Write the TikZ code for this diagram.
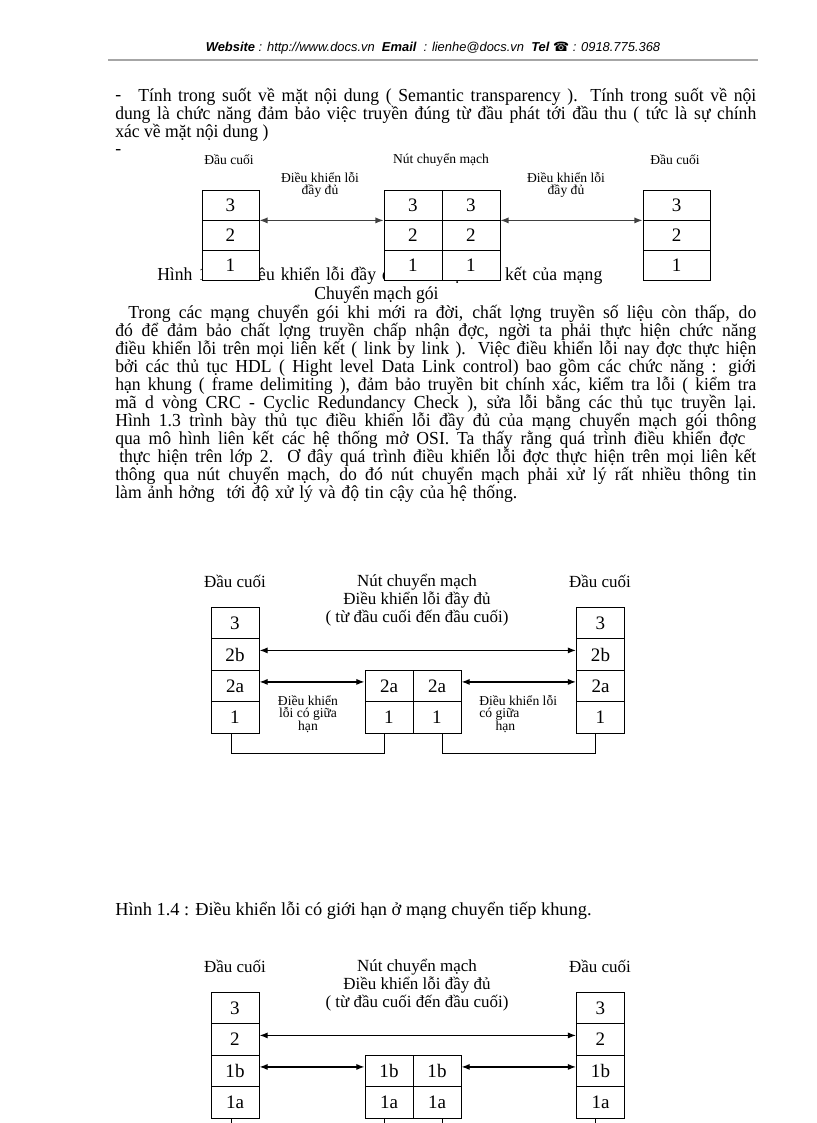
\documentclass[tikz,border=0pt]{standalone}
\usepackage{graphicx}
\usepackage{fontspec}
\setmainfont{Liberation Serif}
\newfontfamily\bodyfont[FakeStretch=0.96]{Liberation Serif}
\newfontfamily\headfont{Liberation Sans}
\newfontfamily\symfont{DejaVu Sans}
\usetikzlibrary{calc}
\usetikzlibrary{arrows.meta}

\newlength\px
\setlength\px{0.7353pt}
\newlength\jw
% one justified line of the text, #1 = width in px
\newcommand\jline[2]{\settowidth\jw{#2}%
  \ifdim\jw>#1\px\resizebox{#1\px}{\height}{#2}\else\makebox[#1\px][s]{#2}\fi}

\tikzset{
  txt/.style={anchor=base west, inner sep=0pt, font=\bodyfont\fontsize{13.5}{15}\selectfont},
  lbl/.style={inner sep=0pt, align=center, font=\fontsize{12.5}{13.2}\selectfont},
  smalllbl/.style={inner sep=0pt, align=center, font=\fontsize{10}{8.4}\selectfont},
  tinylbl/.style={inner sep=0pt, font=\fontsize{10}{9.2}\selectfont},
  cell/.style={draw, line width=0.7pt, fill=white, inner sep=0pt, minimum width=35.3pt, minimum height=23.16pt, font=\fontsize{14}{14}\selectfont},
  cellA/.style={draw, line width=0.6pt, fill=white, inner sep=0pt, minimum height=22.06pt, font=\fontsize{14}{14}\selectfont},
  link/.style={{Latex[length=6pt,width=4.5pt]}-{Latex[length=6pt,width=4.5pt]}, line width=0.9pt},
  wire/.style={line width=0.6pt}
}

\begin{document}
\begin{tikzpicture}[x=0.7353pt, y=-0.7353pt]
    \useasboundingbox (0,0) rectangle (816,1123);

    % page header
    \node[anchor=base, inner sep=0pt, font=\headfont\fontsize{9.5}{11}\selectfont\itshape] (head) at (433,52)
        {\textbf{Website} : http://www.docs.vn \ \textbf{Email} \ : lienhe@docs.vn \ \textbf{Tel} {\symfont\upshape ☎} : 0918.775.368};
    \draw[gray!70, line width=1.1pt] (108,60) -- (758,60);

    % text above Hinh 1.3
    \node[txt] (dash1) at (115,101) {-};
    \node[txt] (p1) at (138,102) {\jline{618}{Tính trong suốt về mặt nội dung ( Semantic transparency ). Tính trong suốt về nội}};
    \node[txt] (p2) at (115,120) {\jline{641}{dung là chức năng đảm bảo việc truyền đúng từ đầu phát tới đầu thu (  tức là sự chính}};
    \node[txt] (p3) at (115,138) {xác về mặt nội dung )};
    \node[txt] (dash2) at (115,155) {-};

    % Hinh 1.3 caption (boxes are drawn over it)
    \node[txt, font=\bodyfont\fontsize{13.5}{15}\selectfont] (cap3) at (157,280) {\jline{445}{Hình 1.3 : Điều khiển lỗi đầy đủ trên mọi liên kết của mạng}};
    \node[txt, font=\bodyfont\fontsize{13.5}{15}\selectfont] (cap3b) at (314,299) {Chuyển mạch gói};

    % Hinh 1.3 labels
    \node[smalllbl] (ta) at (229,160) {Đầu cuối};
    \node[smalllbl] (na) at (441,160) {Nút chuyển mạch};
    \node[smalllbl] (tb) at (675,160) {Đầu cuối};
    \node[smalllbl] (ea) at (320,185) {Điều khiển lỗi\\đầy đủ};
    \node[smalllbl] (eb) at (566,185) {Điều khiển lỗi\\đầy đủ};

    % Hinh 1.3 layers
    \foreach \v/\y in {3/205,2/235,1/265} {
        \node[cellA, minimum width=41.9pt] (a\v) at (230.5,\y) {\v};
        \node[cellA, minimum width=42.6pt] (b\v) at (413,\y) {\v};
        \node[cellA, minimum width=42.6pt] (c\v) at (471,\y) {\v};
        \node[cellA, minimum width=49.3pt] (d\v) at (676.5,\y) {\v};
    }
    \draw[link, black!75] (a3.south east) -- (b3.south west);
    \draw[link, black!75] (c3.south east) -- (d3.south west);

    % text between the figures
    \node[txt] (q1) at (128,318) {\jline{628}{Trong các mạng chuyển gói khi mới ra đời, chất lợng  truyền số liệu còn thấp, do}};
    \node[txt] (q2) at (115,336) {\jline{641}{đó để đảm bảo chất lợng  truyền  chấp nhận đợc,  ngời  ta phải thực hiện chức năng}};
    \node[txt] (q3) at (115,354) {\jline{641}{điều khiển lỗi trên mọi liên kết ( link by link ). Việc điều khiển lỗi nay đợc  thực hiện}};
    \node[txt] (q4) at (115,372) {\jline{641}{bởi các thủ tục HDL ( Hight level Data Link control) bao gồm các chức năng : giới}};
    \node[txt] (q5) at (115,390) {\jline{641}{hạn khung ( frame delimiting ), đảm bảo truyền bit chính xác, kiểm tra lỗi ( kiểm tra}};
    \node[txt] (q6) at (115,408) {\jline{641}{mã d  vòng CRC - Cyclic Redundancy Check ), sửa lỗi bằng các thủ tục truyền lại.}};
    \node[txt] (q7) at (115,426) {\jline{641}{Hình 1.3  trình bày thủ tục điều khiển lỗi đầy đủ của mạng chuyển mạch gói thông}};
    \node[txt] (q8) at (115,444) {\jline{630}{qua mô hình liên kết các hệ thống mở OSI. Ta thấy rằng quá trình điều khiển đợc}};
    \node[txt] (q9) at (119,462) {\jline{637}{thực hiện trên lớp 2. Ơ đây quá trình điều khiển lỗi đợc  thực hiện trên mọi liên kết}};
    \node[txt] (q10) at (115,480) {\jline{641}{thông qua nút chuyển mạch, do đó nút chuyển mạch phải xử lý rất nhiều thông tin}};
    \node[txt] (q11) at (115,498) {\jline{402}{làm ảnh hởng \ tới độ xử lý và độ tin cậy của hệ thống.}};

    % Hinh 1.4
    \node[lbl] (tc) at (235,581) {Đầu cuối};
    \node[lbl] (nb) at (417,600) {Nút chuyển mạch\\Điều khiển lỗi đầy đủ\\( từ đầu cuối đến đầu cuối)};
    \node[lbl] (td) at (600,581) {Đầu cuối};

    \foreach \v/\y in {3/623,2b/654.5,2a/686,1/717.5} {
        \node[cell] (l\v) at (235,\y) {\v};
        \node[cell] (r\v) at (600.5,\y) {\v};
    }
    \foreach \v/\y in {2a/686,1/717.5} {
        \node[cell] (m\v) at (389,\y) {\v};
        \node[cell] (n\v) at (437,\y) {\v};
    }
    \draw[link] ([yshift=3pt]l2b.east) -- ([yshift=3pt]r2b.west);
    \draw[link] ([yshift=3pt]l2a.east) -- ([yshift=3pt]m2a.west);
    \draw[link] ([yshift=3pt]n2a.east) -- ([yshift=3pt]r2a.west);

    \node[tinylbl, align=center] (ga) at (308,714) {Điều khiển\\lỗi có giữa\\hạn};
    \node[tinylbl, align=left, anchor=west] (gb) at (479,714) {Điều khiển lỗi\\có giữa\\\hspace{1.2em}hạn};

    \draw[wire] ([xshift=-3pt]l1.south) -- ++(0,20) -| ([xshift=-3.5pt]m1.south);
    \draw[wire] ([xshift=4pt]n1.south) -- ++(0,20) -| ([xshift=-4pt]r1.south);

    \node[anchor=base west, inner sep=0pt, font=\fontsize{13.5}{15}\selectfont] (cap4) at (115,915)
        {Hình 1.4 : Điều khiển lỗi có giới hạn ở mạng chuyển tiếp khung.};

    % next figure (cut by the page)
    \node[lbl] (te) at (235,966) {Đầu cuối};
    \node[lbl] (nc) at (417,985) {Nút chuyển mạch\\Điều khiển lỗi đầy đủ\\( từ đầu cuối đến đầu cuối)};
    \node[lbl] (tf) at (600,966) {Đầu cuối};

    \foreach \v/\y in {3/1008,2/1039.5,1b/1071,1a/1102.5} {
        \node[cell] (ll\v) at (235,\y) {\v};
        \node[cell] (rr\v) at (600.5,\y) {\v};
    }
    \foreach \v/\y in {1b/1071,1a/1102.5} {
        \node[cell] (mm\v) at (389,\y) {\v};
        \node[cell] (nn\v) at (437,\y) {\v};
    }
    \draw[link] ([yshift=3pt]ll2.east) -- ([yshift=3pt]rr2.west);
    \draw[link] ([yshift=3pt]ll1b.east) -- ([yshift=3pt]mm1b.west);
    \draw[link] ([yshift=3pt]nn1b.east) -- ([yshift=3pt]rr1b.west);

    \draw[wire] ([xshift=-3pt]ll1a.south) -- ++(0,20);
    \draw[wire] ([xshift=-3.5pt]mm1a.south) -- ++(0,20);
    \draw[wire] ([xshift=4pt]nn1a.south) -- ++(0,20);
    \draw[wire] ([xshift=-4pt]rr1a.south) -- ++(0,20);
\end{tikzpicture}
\end{document}
